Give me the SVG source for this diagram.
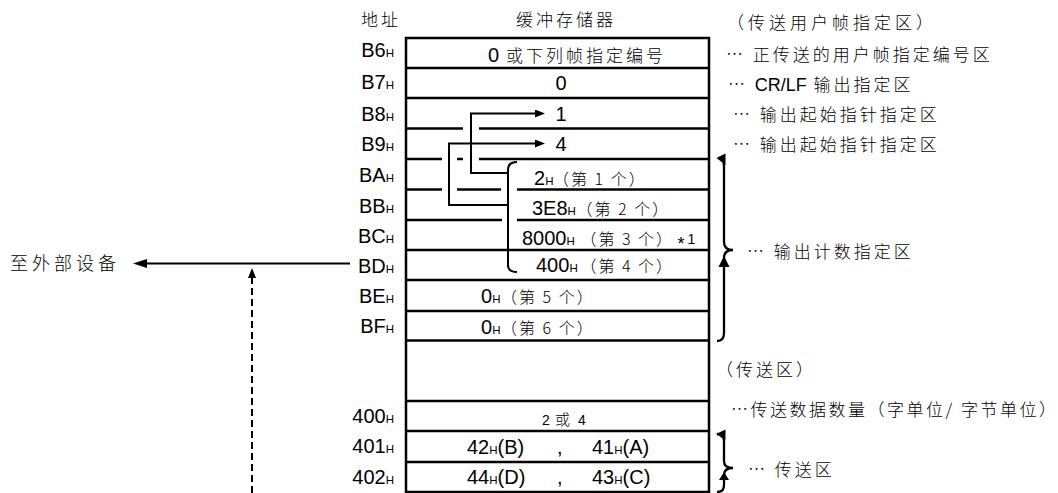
<svg xmlns="http://www.w3.org/2000/svg" width="1058" height="493" viewBox="0 0 1058 493" xml:lang="zh-CN" lang="zh-CN">
<defs>
<style>
.ln{stroke:#000;stroke-width:2.5;fill:none}
.pl{stroke:#000;stroke-width:2;fill:none}
.br{stroke:#000;stroke-width:2.3;fill:none}
.wd{fill:#000;stroke:none}
.t{font-family:"Liberation Sans",Arial,sans-serif;font-size:20px;fill:#000}
.c{font-family:"Noto Sans CJK SC","Liberation Sans",sans-serif;font-size:17px;letter-spacing:3px;font-weight:300;fill:#000}
.p{font-family:"Noto Sans CJK SC","Liberation Sans",sans-serif;font-size:16px;letter-spacing:2px;font-weight:300;fill:#000}
.h{font-size:11.5px}
.lf{font-family:"Liberation Sans",Arial,sans-serif;font-size:18px;letter-spacing:0;font-weight:400}
.a{text-anchor:end}
.m{text-anchor:middle}
</style>
<marker id="ah" viewBox="0 0 10 8" refX="0" refY="4" markerWidth="10" markerHeight="8" markerUnits="userSpaceOnUse" orient="auto"><path d="M0,0 L10,4 L0,8 z" fill="#000"/></marker>
<marker id="ahb" viewBox="0 0 14 9" refX="0" refY="4.5" markerWidth="14" markerHeight="9" markerUnits="userSpaceOnUse" orient="auto"><path d="M0,0 L14,4.5 L0,9 z" fill="#000"/></marker>
</defs>
<rect width="1058" height="493" fill="#fff"/>

<g id="headers">
<text class="c" x="361" y="26">地址</text>
<text class="c" x="516" y="26">缓冲存储器</text>
</g>

<g id="buffer-frame">
<rect class="ln" x="406" y="38" width="303" height="454"/>
<path class="ln" d="M406,68H709 M406,98H709 M406,128.5H463 M479,128.5H709 M406,159H442 M457,159H463 M479,159H709 M406,189.5H442 M457,189.5H501 M517,189.5H709 M406,220H502 M517,220H709 M406,250H709 M406,280H709 M406,311H709 M406,340.5H709 M406,401H709 M406,431H709 M406,462H709"/>
</g>

<g id="row-B6">
<text class="t a" x="394" y="57">B6<tspan class="h">H</tspan></text>
<text class="t" x="488" y="62">0</text>
<text class="c" x="506" y="62">或下列帧指定编号</text>
</g>
<g id="row-B7">
<text class="t a" x="394" y="89">B7<tspan class="h">H</tspan></text>
<text class="t m" x="561" y="90">0</text>
</g>
<g id="row-B8">
<text class="t a" x="394" y="120.5">B8<tspan class="h">H</tspan></text>
<text class="t m" x="561" y="121">1</text>
</g>
<g id="row-B9">
<text class="t a" x="394" y="150.5">B9<tspan class="h">H</tspan></text>
<text class="t m" x="561" y="151">4</text>
</g>
<g id="row-BA">
<text class="t a" x="394" y="182">BA<tspan class="h">H</tspan></text>
<text class="t" x="534" y="185">2<tspan class="h">H</tspan></text>
<text class="p" x="553" y="185">（第 1 个）</text>
</g>
<g id="row-BB">
<text class="t a" x="394" y="213">BB<tspan class="h">H</tspan></text>
<text class="t" x="532" y="215">3E8<tspan class="h">H</tspan></text>
<text class="p" x="576.5" y="215">（第 2 个）</text>
</g>
<g id="row-BC">
<text class="t a" x="394" y="243">BC<tspan class="h">H</tspan></text>
<text class="t" x="522" y="245">8000<tspan class="h">H</tspan></text>
<text class="p" x="580.4" y="245">（第 3 个）</text>
<text class="t" x="677.5" y="250" style="font-size:18px">*</text>
<text class="t" x="687.5" y="244" style="font-size:14px">1</text>
</g>
<g id="row-BD">
<text class="t a" x="394" y="273">BD<tspan class="h">H</tspan></text>
<text class="t" x="536" y="272">400<tspan class="h">H</tspan></text>
<text class="p" x="580.4" y="272">（第 4 个）</text>
</g>
<g id="row-BE">
<text class="t a" x="394" y="303">BE<tspan class="h">H</tspan></text>
<text class="t" x="481" y="303">0<tspan class="h">H</tspan></text>
<text class="p" x="501" y="303">（第 5 个）</text>
</g>
<g id="row-BF">
<text class="t a" x="394" y="333">BF<tspan class="h">H</tspan></text>
<text class="t" x="481" y="334">0<tspan class="h">H</tspan></text>
<text class="p" x="501" y="334">（第 6 个）</text>
</g>
<g id="row-400">
<text class="t a" x="394" y="423">400<tspan class="h">H</tspan></text>
<text class="t" x="542" y="425" style="font-size:14px">2</text>
<text class="c" x="555" y="425" style="font-size:15px">或</text>
<text class="t" x="578" y="425" style="font-size:14px">4</text>
</g>
<g id="row-401">
<text class="t a" x="394" y="453">401<tspan class="h">H</tspan></text>
<text class="t" x="467" y="454">42<tspan class="h">H</tspan>(B)</text>
<text class="t" x="557" y="454">,</text>
<text class="t" x="592" y="454">41<tspan class="h">H</tspan>(A)</text>
</g>
<g id="row-402">
<text class="t a" x="394" y="484">402<tspan class="h">H</tspan></text>
<text class="t" x="467" y="484">44<tspan class="h">H</tspan>(D)</text>
<text class="t" x="557" y="484">,</text>
<text class="t" x="592" y="484">43<tspan class="h">H</tspan>(C)</text>
</g>

<g id="right-labels">
<text class="c" x="727" y="29" style="letter-spacing:4px">（传送用户帧指定区）</text>
<text class="c" x="726" y="61">… 正传送的用户帧指定编号区</text>
<text class="c" x="728" y="91">… <tspan class="lf">CR/LF</tspan> 输出指定区</text>
<text class="c" x="733" y="121">… 输出起始指针指定区</text>
<text class="c" x="733" y="151">… 输出起始指针指定区</text>
<text class="c" x="747" y="258">… 输出计数指定区</text>
<text class="c" x="716" y="376">（传送区）</text>
<text class="c" x="731" y="416" style="letter-spacing:2.5px">…传送数据数量（字单位/ 字节单位）</text>
<text class="c" x="748" y="476">… 传送区</text>
</g>

<g id="braces">
<path class="br" d="M718,158 Q724,158 724,166 L724,242 Q724,250 733,250 Q724,250 724,258 L724,333 Q724,341 717,341"/>
<polygon class="wd" points="716.5,158 725.5,153.5 725.5,165"/>
<polygon class="wd" points="724,256 729.5,267 718.5,267"/>
<path class="br" d="M717,434 Q724,434 724,441 L724,461 Q724,468 733,468 Q724,468 724,475 L724,485 Q724,492 717,492"/>
<polygon class="wd" points="716,434 725.5,429.5 725.5,440"/>
<polygon class="wd" points="724,472 729,480 719,480"/>
</g>

<g id="external-device">
<text class="c" x="10" y="270" style="font-size:18px;letter-spacing:4px">至外部设备</text>
</g>

<g id="connectors">
<path class="pl" d="M508,173 H471 V113.5 H535" marker-end="url(#ah)"/>
<path class="pl" d="M508,205 H449 V143.5 H535" marker-end="url(#ah)"/>
<path class="pl" d="M517,162 Q508,162 508,170 V265 Q508,272 517,272"/>
<path class="pl" d="M350,263.5 H147" marker-end="url(#ahb)"/>
<path class="pl" d="M252,493 V278" stroke-dasharray="7,4" marker-end="url(#ah)"/>
</g>
</svg>
